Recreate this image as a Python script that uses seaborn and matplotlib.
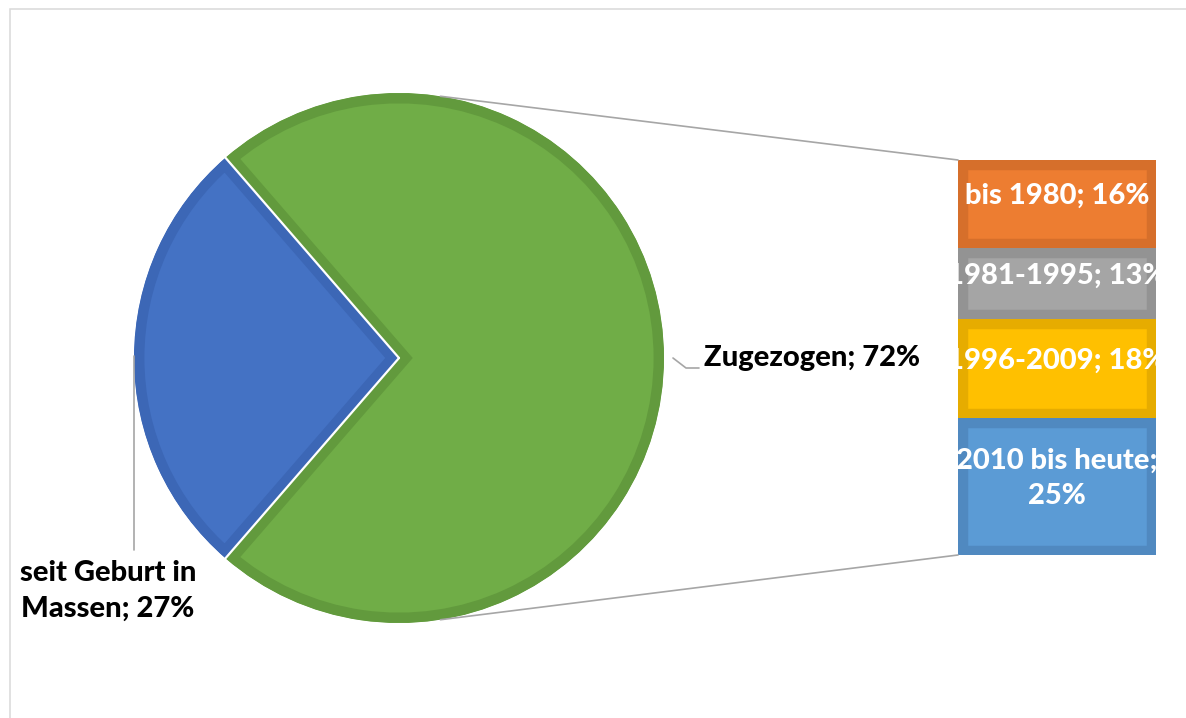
import numpy as np
import matplotlib
matplotlib.use("Agg")
import matplotlib.pyplot as plt
from matplotlib.patches import Rectangle, ConnectionPatch
from matplotlib.transforms import offset_copy
import seaborn as sns

# --- Daten ---
pie_labels = ["seit Geburt in\nMassen", "Zugezogen"]
pie_values = [27, 72]
pie_colors = ["#4472C4", "#70AD47"]
pie_edges = ["#3C67B6", "#629A3D"]

bar_labels = ["2010 bis heute;\n25%", "1996-2009; 18%", "1981-1995; 13%", "bis 1980; 16%"]
bar_values = [25, 18, 13, 16]
bar_colors = ["#5B9BD5", "#FFC000", "#A5A5A5", "#ED7D31"]
bar_edges = ["#5089C0", "#E6AC00", "#939393", "#D66F2B"]

sns.set_theme(style="white")
plt.rcParams["font.family"] = ["Lato", "DejaVu Sans"]

W, H = 1186, 718
FS = 21
fig = plt.figure(figsize=(W / 100, H / 100), dpi=100)

# Rahmen
fig.patches.append(Rectangle((10 / W, -0.1), 1.2, 1.1 - 9.5 / H, transform=fig.transFigure,
                             fill=False, edgecolor="#D9D9D9", linewidth=1.1))

# --- Kreis ---
ax = fig.add_axes([0, 0, 1, 1])
center = (399, 360)
radius = 265
start = 180 - pie_values[0] / sum(pie_values) * 360 / 2
wedges, _ = ax.pie(pie_values, colors=pie_colors, startangle=start, center=center,
                   radius=radius, frame=True)
for w, ec in zip(wedges, pie_edges):
    w.set_edgecolor(ec)
    w.set_linewidth(15)
    w.set_clip_path(w)
    w.set_clip_on(True)

# weisse Trennlinien
for ang in [start, start + pie_values[0] / sum(pie_values) * 360]:
    a = np.deg2rad(ang)
    ax.plot([center[0], center[0] + radius * np.cos(a)],
            [center[1], center[1] + radius * np.sin(a)], color="white", lw=1.6)

ax.set_xlim(0, W)
ax.set_ylim(0, H)
ax.set_aspect("equal")
ax.axis("off")

# Beschriftungen Kreis
ax.plot([center[0] + radius + 9, center[0] + radius + 22, center[0] + radius + 35],
        [center[1], center[1] - 10, center[1] - 10], color="#A6A6A6", lw=1.2)
ax.text(center[0] + radius + 40, center[1], f"{pie_labels[1]}; {pie_values[1]}%",
        ha="left", va="center", fontsize=FS, fontweight="black", color="black")

ax.plot([center[0] - radius, center[0] - radius], [center[1] + 2, center[1] - 192],
        color="#A6A6A6", lw=1.2)
ax.text(108, 127, f"{pie_labels[0]}; {pie_values[0]}%", ha="center", va="center",
        fontsize=FS, fontweight="black", color="black", linespacing=1.45)

# --- Balken ---
bax = fig.add_axes([958 / W, 1 - 555 / H, 198 / W, 395 / H])
lab_trans = offset_copy(bax.transData, fig=fig, y=8, units="dots")
bottom = 0
for val, lab, col, ec in zip(bar_values, bar_labels, bar_colors, bar_edges):
    bars = bax.bar([0], [val], bottom=bottom, width=1, color=col, edgecolor=ec, linewidth=14)
    for b in bars:
        b.set_clip_path(b)
    bax.text(0, bottom + val / 2, lab, ha="center", va="center", fontsize=FS,
             fontweight="black", color="white", linespacing=1.45, clip_on=False,
             transform=lab_trans)
    bottom += val
bax.set_xlim(-0.5, 0.5)
bax.set_ylim(0, sum(bar_values))
bax.axis("off")

# Verbindungslinien
for sgn, yb in [(1, sum(bar_values)), (-1, 0)]:
    a = np.deg2rad(81 * sgn)
    p = (center[0] + radius * np.cos(a), center[1] + radius * np.sin(a))
    con = ConnectionPatch(xyA=p, coordsA=ax.transData, xyB=(-0.5, yb), coordsB=bax.transData,
                          color="#A6A6A6", lw=1.2)
    fig.add_artist(con)

fig.savefig("out.png", dpi=100)
